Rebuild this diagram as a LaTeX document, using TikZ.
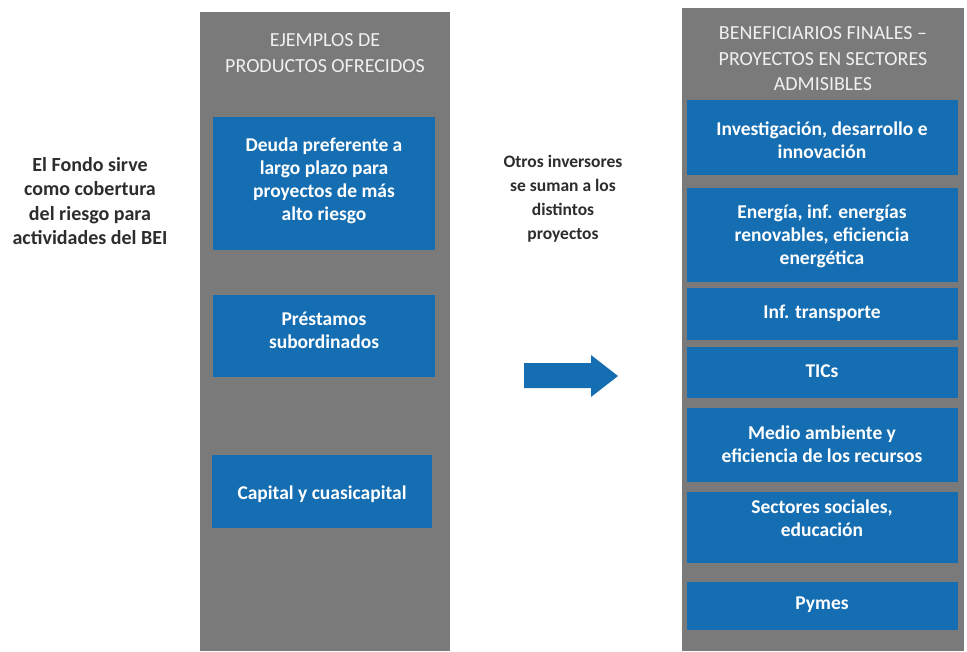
\documentclass[tikz,border=0pt]{standalone}
\usepackage{fontspec}
\setmainfont{Carlito}
\definecolor{panelgray}{RGB}{122,122,122}
\definecolor{boxblue}{RGB}{22,110,178}
\definecolor{txtdark}{RGB}{45,45,45}
\definecolor{headwhite}{RGB}{240,240,240}
\begin{document}
\begin{tikzpicture}[x=1pt,y=-1pt,
  panel/.style={fill=panelgray,draw=none},
  bluebox/.style={fill=boxblue,draw=none},
  boxtxt/.style={text=white,font=\fontsize{19.5}{23}\selectfont\bfseries,align=center,inner sep=0pt},
  headtxt/.style={text=headwhite,font=\fontsize{20}{25.5}\selectfont,align=center,inner sep=0pt},
  sidetxt/.style={text=txtdark,font=\fontsize{20}{24.5}\selectfont\bfseries,align=center,inner sep=0pt},
  midtxt/.style={text=txtdark,font=\fontsize{17.5}{24}\selectfont\bfseries,align=center,inner sep=0pt}]
\useasboundingbox[fill=white] (0,0) rectangle (967,651);
% panels
\fill[panel] (200,12) rectangle (450,651);
\fill[panel] (682,8) rectangle (964,651);
% headers
\node[headtxt] (h1) at (325,53) {EJEMPLOS DE\\PRODUCTOS OFRECIDOS};
\node[headtxt] (h2) at (823,59) {BENEFICIARIOS FINALES –\\PROYECTOS EN SECTORES\\ADMISIBLES};
% left boxes
\fill[bluebox] (213,117) rectangle (435,250);
\node[boxtxt] (l1) at (324,181) {Deuda preferente a\\largo plazo para\\proyectos de más\\alto riesgo};
\fill[bluebox] (213,295) rectangle (435,377);
\node[boxtxt] (l2) at (324,330) {Préstamos\\subordinados};
\fill[bluebox] (212,455) rectangle (432,528);
\node[boxtxt] (l3) at (322,494) {Capital y cuasicapital};
% right boxes
\fill[bluebox] (687,100) rectangle (958,175);
\node[boxtxt] (r1) at (822,140) {Investigación, desarrollo e\\innovación};
\fill[bluebox] (687,188) rectangle (958,282);
\node[boxtxt] (r2) at (822,236) {Energía, inf. energías\\renovables, eficiencia\\energética};
\fill[bluebox] (687,288) rectangle (958,340);
\node[boxtxt] (r3) at (822,313) {Inf. transporte};
\fill[bluebox] (687,347) rectangle (958,398);
\node[boxtxt] (r4) at (822,371) {TICs};
\fill[bluebox] (687,408) rectangle (958,482);
\node[boxtxt] (r5) at (822,444) {Medio ambiente y\\eficiencia de los recursos};
\fill[bluebox] (687,492) rectangle (958,563);
\node[boxtxt] (r6) at (822,518) {Sectores sociales,\\educación};
\fill[bluebox] (687,582) rectangle (958,630);
\node[boxtxt] (r7) at (822,605) {Pymes};
% side texts
\node[sidetxt] (t1) at (90,201) {El Fondo sirve\\como cobertura\\del riesgo para\\actividades del BEI};
\node[midtxt] (t2) at (563,199) {Otros inversores\\se suman a los\\distintos\\proyectos};
% arrow
\fill[boxblue] (524,363) -- (591,363) -- (591,355) -- (618,376) -- (591,397) -- (591,388) -- (524,388) -- cycle;
\end{tikzpicture}
\end{document}
